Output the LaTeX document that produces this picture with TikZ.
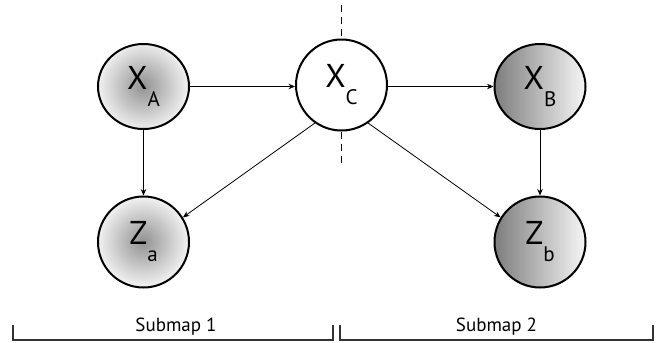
\documentclass[tikz,border=0pt]{standalone}
\usepackage{fontspec}
\setmainfont{PT Sans}
\usetikzlibrary{arrows.meta,shapes.geometric}
\newcommand{\varlbl}[2]{{\fontsize{33}{33}\selectfont #1}\raisebox{-17pt}{\fontsize{21}{21}\selectfont #2}}
\begin{document}
\begin{tikzpicture}[x=1pt,y=-1pt,
  ball/.style={ellipse, draw, line width=2pt, inner sep=0pt, minimum width=91pt, minimum height=91pt},
  flat/.style={minimum height=85pt},
  radball/.style={path picture={
      \foreach \i [evaluate=\i as \c using 3+40*\i/40, evaluate=\i as \r using 48*(1-\i/40)+0.3] in {0,...,40}
        {\fill[black!\c] (path picture bounding box.center) circle[radius=\r pt];}}},
  linball/.style={path picture={
      \foreach \i [evaluate=\i as \c using 52-50*\i/48, evaluate=\i as \xx using 2*\i-48] in {0,...,48}
        {\fill[black!\c] ([xshift=\xx pt, yshift=-50pt]path picture bounding box.center) rectangle ++(2.3pt,100pt);}}},
  conn/.style={line width=0.8pt, -{Stealth[length=6.5pt,width=5.5pt]}},
  sep/.style={line width=1pt, dash pattern=on 7pt off 5pt},
  brace/.style={line width=1.1pt, black!80},
  sublabel/.style={font=\fontsize{19}{19}\selectfont, anchor=base}
]
\useasboundingbox (0,0) rectangle (662,343);
\node[ball, flat, radball] (XA) at (143.5,86.5) {\varlbl{X}{A}};
\node[ball, fill=white] (XC) at (341.5,85) {\varlbl{X}{C}};
\node[ball, flat, linball] (XB) at (540,86.5) {\varlbl{X}{B}};
\node[ball, radball] (Za) at (143.5,242) {\varlbl{Z}{a}};
\node[ball, linball] (Zb) at (540,242) {\varlbl{Z}{b}};
\coordinate (dtop) at (341.5,5);
\coordinate (dbot) at (341.5,166);
\draw[sep] (dtop) -- (XC.north);
\draw[sep] (XC.south) -- (dbot);
\draw[conn] (XA.east) -- (XA.east -| XC.west);
\draw[conn] (XC.east |- XB.west) -- (XB.west);
\draw[conn] (XA.south) -- (Za.north);
\draw[conn] (XB.south) -- (Zb.north);
\draw[conn] (XC.235) -- (Za.32);
\draw[conn] (XC.305) -- (Zb.148);
\draw[brace] (13,325) -- (13,340) -- (333,340) -- (333,325);
\draw[brace] (340,325) -- (340,340) -- (653,340) -- (653,325);
\node[sublabel] (s1) at (176,331) {Submap 1};
\node[sublabel] (s2) at (496.5,331) {Submap 2};
\end{tikzpicture}
\end{document}
